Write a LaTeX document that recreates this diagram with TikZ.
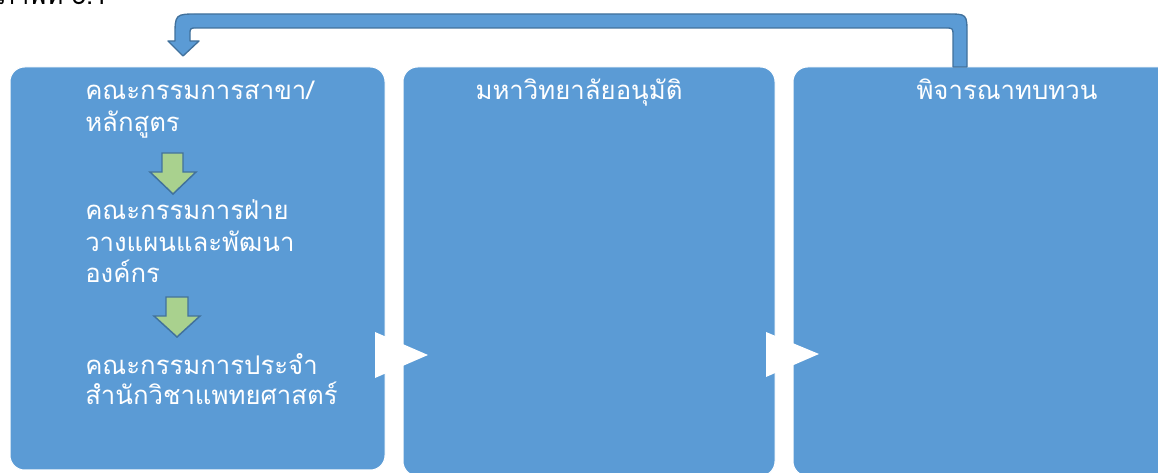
\documentclass[tikz,border=0pt]{standalone}
\usepackage{fontspec}
\newfontfamily\thai[Script=Thai]{Loma}
\usetikzlibrary{fit}
\definecolor{boxblue}{HTML}{5B9BD5}
\definecolor{edgeblue}{HTML}{41719C}
\definecolor{arrowgreen}{HTML}{A9D18E}
\begin{document}
\begin{tikzpicture}[x=0.75pt,y=-0.75pt,
  box/.style={draw=white, line width=0.75pt, fill=boxblue, rounded corners=11pt, inner sep=0pt},
  lbl/.style={text=white, font=\thai\fontsize{19.3}{24}\selectfont, inner sep=0pt, anchor=base west},
  downarrow/.style={fill=arrowgreen, draw=edgeblue, line width=1.1pt, line join=miter},
  chevron/.style={fill=white, draw=none},
  uturn/.style={fill=boxblue, draw=edgeblue, line width=1pt, line join=round}]
\useasboundingbox (0,0) rectangle (1158,473);
\clip (0,0) rectangle (1158,473);
% caption (cut off at top)
\node[anchor=base east, text=black, font=\thai\fontsize{19.3}{24}\selectfont, inner sep=0pt] (cap) at (108,5) {ภาพที่ 3.1};
% boxes
\node[box, fit={(10,67)(385,470)}] (b1) {};
\node[box, fit={(403,67)(775,476)}] (b2) {};
\node[box, fit={(793,67)(1180,476)}] (b3) {};
% u-turn arrow
\path[uturn] (967,67) -- (967,34) .. controls (967,14) and (967,14) .. (947,14)
  -- (198,14) .. controls (175,14) and (175,14) .. (175,37) -- (175,41) -- (168,41)
  -- (183,56) -- (199,41) -- (190,41) -- (190,35) .. controls (190,28) and (190,28) .. (197,28)
  -- (945,28) .. controls (953,28) and (953,28) .. (953,36) -- (953,67) -- cycle;
% chevrons
\path[chevron] (375,332) -- (428,355) -- (375,378) -- cycle;
\path[chevron] (766,332) -- (819,354) -- (766,377) -- cycle;
% green arrows
\path[downarrow] (162,153) -- (183,153) -- (183,172) -- (196,172) -- (173,194) -- (150,172) -- (162,172) -- cycle;
\path[downarrow] (166,297) -- (188,297) -- (188,316) -- (200,316) -- (177,337) -- (154,316) -- (166,316) -- cycle;
% texts box 1
\node[lbl] (t1a) at (85,100) {คณะกรรมการสาขา/};
\node[lbl] (t1b) at (85,132) {หลักสูตร};
\node[lbl] (t2a) at (85,220) {คณะกรรมการฝ่าย};
\node[lbl] (t2b) at (85,252) {วางแผนและพัฒนา};
\node[lbl] (t2c) at (85,283) {องค์กร};
\node[lbl] (t3a) at (85,375) {คณะกรรมการประจำ};
\node[lbl] (t3b) at (85,405) {สำนักวิชาแพทยศาสตร์};
% texts box 2, 3
\node[lbl, anchor=base] (t4) at (579,100) {มหาวิทยาลัยอนุมัติ};
\node[lbl, anchor=base] (t5) at (1007,100) {พิจารณาทบทวน};
\end{tikzpicture}
\end{document}
